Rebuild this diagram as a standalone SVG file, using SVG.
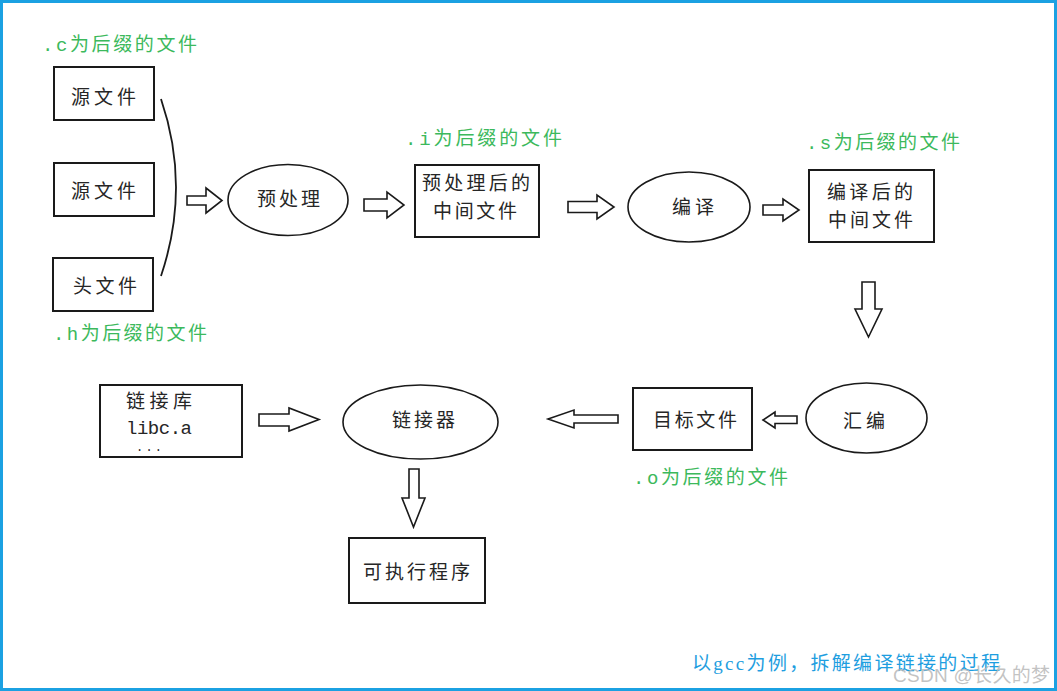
<svg xmlns="http://www.w3.org/2000/svg" width="1057" height="691" viewBox="0 0 1057 691">
<style>
.box{fill:#fff;stroke:#1a1a1a;stroke-width:2}
.ell{fill:#fff;stroke:#1a1a1a;stroke-width:1.6}
.arr{fill:#fff;stroke:#1a1a1a;stroke-width:1.6;stroke-linejoin:miter}
.brace{fill:none;stroke:#1a1a1a;stroke-width:1.8}
.t{font-family:"Liberation Mono","Noto Sans CJK SC",monospace;font-size:19px;fill:#262626}
.g{font-family:"Liberation Mono","Noto Sans CJK SC",monospace;font-size:19px;fill:#3cb95c}
.b{font-family:"Liberation Serif","Noto Sans CJK SC",serif;font-size:19px;fill:#1e9ee0}
.w{font-family:"Liberation Sans","Noto Sans CJK SC",sans-serif;font-size:19px;fill:#b8b8b8;fill-opacity:0.85}
</style>
<rect x="0" y="0" width="1057" height="691" fill="#fff"/>
<rect x="1.5" y="1.5" width="1054" height="688" fill="none" stroke="#1ba1e2" stroke-width="3"/>

<g id="labels">
<text class="g" x="42" y="51" textLength="155">.c为后缀的文件</text>
<text class="g" x="53" y="340" textLength="154">.h为后缀的文件</text>
<text class="g" x="405" y="145" textLength="157">.i为后缀的文件</text>
<text class="g" x="806" y="149" textLength="154">.s为后缀的文件</text>
<text class="g" x="633" y="484" textLength="155">.o为后缀的文件</text>
</g>

<g id="src1"><rect class="box" x="54" y="67" width="100" height="53"/><text class="t" x="71" y="104" textLength="65">源文件</text></g>
<g id="src2"><rect class="box" x="54" y="163" width="100" height="53"/><text class="t" x="71" y="198" textLength="65">源文件</text></g>
<g id="hdr"><rect class="box" x="53" y="258" width="100" height="53"/><text class="t" x="73" y="293" textLength="64">头文件</text></g>

<g id="preprocess"><ellipse class="ell" cx="288" cy="200" rx="60" ry="35.5"/><text class="t" x="257" y="206" textLength="63">预处理</text></g>
<g id="ifile"><rect class="box" x="415" y="165" width="124" height="72"/><text class="t" x="422" y="190" textLength="108">预处理后的</text><text class="t" x="433" y="218" textLength="84">中间文件</text></g>
<g id="compile"><ellipse class="ell" cx="689" cy="207" rx="61" ry="35"/><text class="t" x="672" y="214" textLength="42">编译</text></g>
<g id="sfile"><rect class="box" x="809" y="170" width="125" height="72"/><text class="t" x="827" y="199" textLength="86">编译后的</text><text class="t" x="828" y="227" textLength="85">中间文件</text></g>
<g id="assemble"><ellipse class="ell" cx="866.5" cy="418" rx="60.5" ry="35"/><text class="t" x="843" y="428" textLength="42">汇编</text></g>
<g id="ofile"><rect class="box" x="633" y="388" width="119" height="62"/><text class="t" x="653" y="427" textLength="84">目标文件</text></g>
<g id="linker"><ellipse class="ell" cx="420.5" cy="422" rx="77.5" ry="37"/><text class="t" x="392" y="427" textLength="63">链接器</text></g>
<g id="lib"><rect class="box" x="100" y="385" width="142" height="72"/><text class="t" x="126" y="408" textLength="66">链接库</text><text class="t" x="126" y="434" textLength="66">libc.a</text><text class="t" x="136" y="451" style="font-size:12px" textLength="26">...</text></g>
<g id="exe"><rect class="box" x="349" y="538" width="136" height="65"/><text class="t" x="363" y="579" textLength="107">可执行程序</text></g>

<g id="connectors">
<path class="brace" d="M161,99 Q191,187 161,276"/>
<polygon class="arr" points="187,196 206,196 206,188 222,200.5 206,213 206,205 187,205"/>
<polygon class="arr" points="364,199 387,199 387,192 404,205 387,218 387,211 364,211"/>
<polygon class="arr" points="568,201.5 597,201.5 597,195 614,207 597,219 597,212.5 568,212.5"/>
<polygon class="arr" points="763,205 783,205 783,199 799,210 783,221 783,215 763,215"/>
<polygon class="arr" points="862,282 875,282 875,309 882,309 868.5,337 855,309 862,309"/>
<polygon class="arr" points="797,416 775,416 775,412 763,420 775,428 775,423.5 797,423.5"/>
<polygon class="arr" points="618,415 574,415 574,410 548,419 574,428 574,423 618,423"/>
<polygon class="arr" points="259,414 289,414 289,408 319,419.5 289,431 289,426 259,426"/>
<polygon class="arr" points="409,469 419,469 419,498 425,498 413.5,527 402,498 409,498"/>
</g>

<text class="b" x="692" y="670" textLength="308">以gcc为例，拆解编译链接的过程</text>
<text class="w" x="893" y="682" textLength="157">CSDN @长久的梦</text>
</svg>
